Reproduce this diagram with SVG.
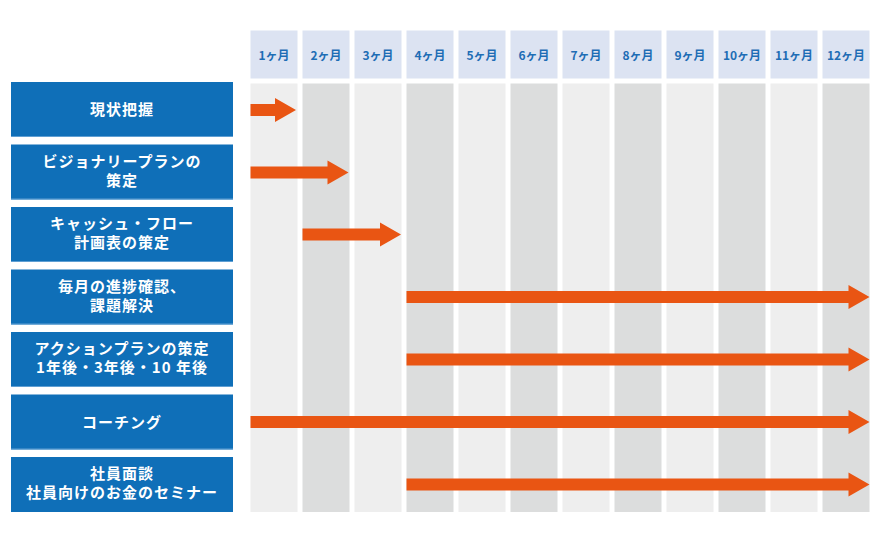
<svg xmlns="http://www.w3.org/2000/svg" width="880" height="556" viewBox="0 0 880 556">
<style>
.hd{fill:#dce3f2}
.ht{fill:#1e6db5;font-family:"Noto Sans CJK JP","Liberation Sans",sans-serif;font-weight:bold;font-size:12px;text-anchor:middle}
.c1{fill:#eeeeee}
.c2{fill:#dcdddd}
.bx{fill:#0f6fb8}
.bl{fill:#5f9fd3}
.bt{fill:#ffffff;font-family:"Noto Sans CJK JP","Liberation Sans",sans-serif;font-weight:bold;font-size:15px;letter-spacing:1px;text-anchor:middle}
.ar{fill:#e95513}
</style>
<rect width="880" height="556" fill="#ffffff"/>
<g id="timeline">
<rect class="hd" x="250.5" y="30.5" width="47" height="48"/><text class="ht" x="274" y="59.5">1ヶ月</text>
<rect class="hd" x="302.5" y="30.5" width="47" height="48"/><text class="ht" x="326" y="59.5">2ヶ月</text>
<rect class="hd" x="354.5" y="30.5" width="47" height="48"/><text class="ht" x="378" y="59.5">3ヶ月</text>
<rect class="hd" x="406.5" y="30.5" width="47" height="48"/><text class="ht" x="430" y="59.5">4ヶ月</text>
<rect class="hd" x="458.5" y="30.5" width="47" height="48"/><text class="ht" x="482" y="59.5">5ヶ月</text>
<rect class="hd" x="510.5" y="30.5" width="47" height="48"/><text class="ht" x="534" y="59.5">6ヶ月</text>
<rect class="hd" x="562.5" y="30.5" width="47" height="48"/><text class="ht" x="586" y="59.5">7ヶ月</text>
<rect class="hd" x="614.5" y="30.5" width="47" height="48"/><text class="ht" x="638" y="59.5">8ヶ月</text>
<rect class="hd" x="666.5" y="30.5" width="47" height="48"/><text class="ht" x="690" y="59.5">9ヶ月</text>
<rect class="hd" x="718.5" y="30.5" width="47" height="48"/><text class="ht" x="742" y="59.5">10ヶ月</text>
<rect class="hd" x="770.5" y="30.5" width="47" height="48"/><text class="ht" x="794" y="59.5">11ヶ月</text>
<rect class="hd" x="822.5" y="30.5" width="47" height="48"/><text class="ht" x="846" y="59.5">12ヶ月</text>
<rect class="c1" x="250.5" y="83.5" width="47" height="428.5"/>
<rect class="c2" x="302.5" y="83.5" width="47" height="428.5"/>
<rect class="c1" x="354.5" y="83.5" width="47" height="428.5"/>
<rect class="c2" x="406.5" y="83.5" width="47" height="428.5"/>
<rect class="c1" x="458.5" y="83.5" width="47" height="428.5"/>
<rect class="c2" x="510.5" y="83.5" width="47" height="428.5"/>
<rect class="c1" x="562.5" y="83.5" width="47" height="428.5"/>
<rect class="c2" x="614.5" y="83.5" width="47" height="428.5"/>
<rect class="c1" x="666.5" y="83.5" width="47" height="428.5"/>
<rect class="c2" x="718.5" y="83.5" width="47" height="428.5"/>
<rect class="c1" x="770.5" y="83.5" width="47" height="428.5"/>
<rect class="c2" x="822.5" y="83.5" width="47" height="428.5"/>
</g>
<g id="node1"><rect class="bx" x="11" y="82" width="222" height="55"/><rect class="bl" x="11" y="136" width="222" height="1"/><text class="bt" x="122" y="115">現状把握</text></g>
<g id="node2"><rect class="bx" x="11" y="144.5" width="222" height="55"/><rect class="bl" x="11" y="198.5" width="222" height="1"/><text class="bt" x="122" y="166.5">ビジョナリープランの</text><text class="bt" x="122" y="185.5">策定</text></g>
<g id="node3"><rect class="bx" x="11" y="207" width="222" height="55"/><rect class="bl" x="11" y="261" width="222" height="1"/><text class="bt" x="122" y="229">キャッシュ・フロー</text><text class="bt" x="122" y="248">計画表の策定</text></g>
<g id="node4"><rect class="bx" x="11" y="269.5" width="222" height="55"/><rect class="bl" x="11" y="323.5" width="222" height="1"/><text class="bt" x="122" y="291.5">毎月の進捗確認、</text><text class="bt" x="122" y="310.5">課題解決</text></g>
<g id="node5"><rect class="bx" x="11" y="332" width="222" height="55"/><rect class="bl" x="11" y="386" width="222" height="1"/><text class="bt" x="122" y="354">アクションプランの策定</text><text class="bt" x="122" y="373">1年後・3年後・10 年後</text></g>
<g id="node6"><rect class="bx" x="11" y="394.5" width="222" height="55"/><rect class="bl" x="11" y="448.5" width="222" height="1"/><text class="bt" x="122" y="427.5">コーチング</text></g>
<g id="node7"><rect class="bx" x="11" y="457" width="222" height="55"/><text class="bt" x="122" y="479">社員面談</text><text class="bt" x="122" y="498">社員向けのお金のセミナー</text></g>
<g id="connectors">
<path class="ar" d="M250.5 104H275V98L296 110L275 122V116H250.5Z"/>
<path class="ar" d="M250.5 166.5H327.5V160.5L348.5 172.5L327.5 184.5V178.5H250.5Z"/>
<path class="ar" d="M302.5 228.5H380V222.5L401 234.5L380 246.5V240.5H302.5Z"/>
<path class="ar" d="M406.5 291H848.5V285L869.5 297L848.5 309V303H406.5Z"/>
<path class="ar" d="M406.5 353.5H848.5V347.5L869.5 359.5L848.5 371.5V365.5H406.5Z"/>
<path class="ar" d="M250.5 416H848.5V410L869.5 422L848.5 434V428H250.5Z"/>
<path class="ar" d="M406.5 478.5H848.5V472.5L869.5 484.5L848.5 496.5V490.5H406.5Z"/>
</g>
</svg>
